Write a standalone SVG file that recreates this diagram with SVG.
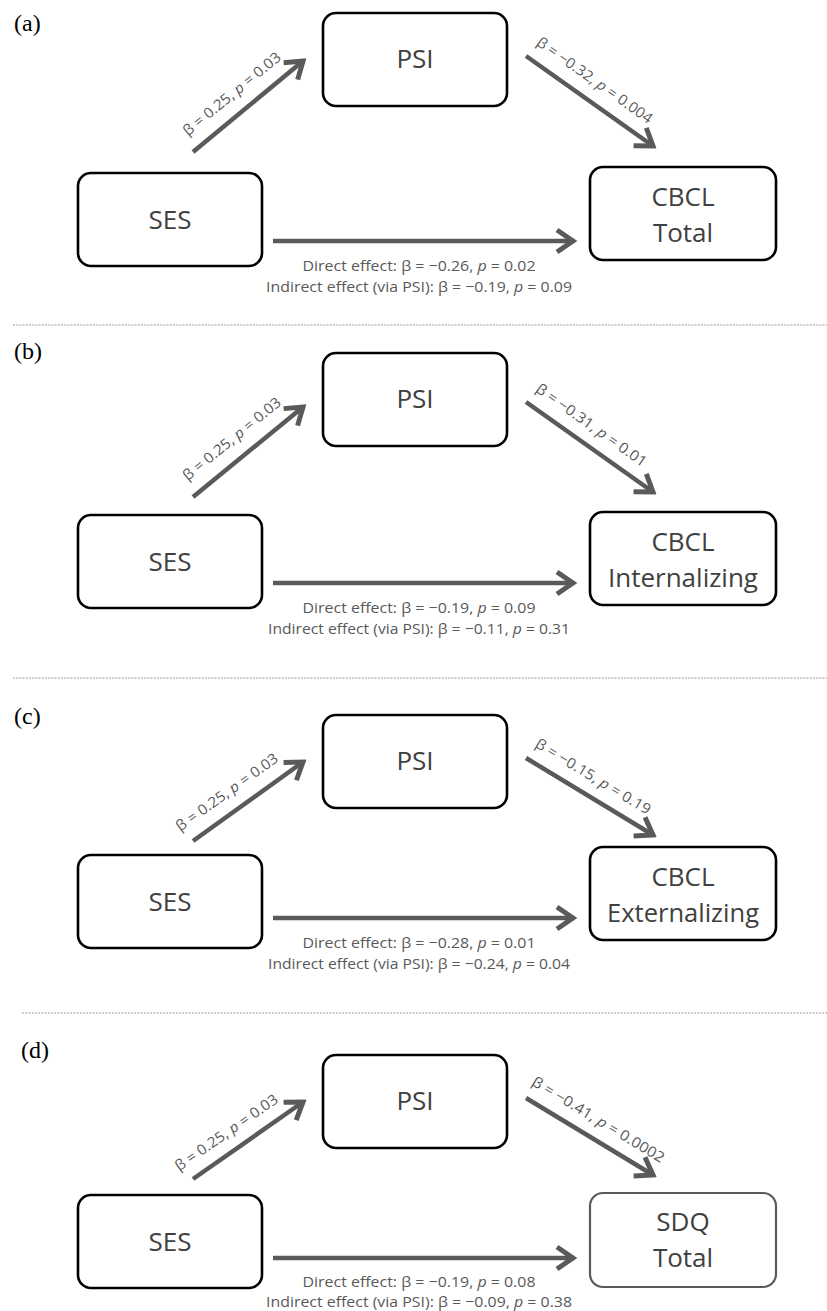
<svg xmlns="http://www.w3.org/2000/svg" width="827" height="1311" viewBox="0 0 827 1311">
<defs>
<style>
.box{fill:#fff;stroke:#000;stroke-width:2.6}
.box2{fill:#fff;stroke:#5a5a5a;stroke-width:2.2}
.lbl{font-family:"Open Sans","Noto Sans",sans-serif;font-size:26px;fill:#404040;text-anchor:middle}
.pl{font-family:"Liberation Serif","Times New Roman",serif;font-size:24px;fill:#000}
.sm{font-family:"Open Sans","Noto Sans",sans-serif;font-size:15px;fill:#595959;text-anchor:middle}
.dg{font-family:"Open Sans","Noto Sans",sans-serif;font-size:14.5px;fill:#595959;text-anchor:middle}
.arr{stroke:#5a5a5a;stroke-width:4.5;fill:none;marker-end:url(#chev)}
.sep{stroke:#9a9a9a;stroke-width:1;stroke-dasharray:2 1.2}
</style>
<marker id="chev" markerUnits="userSpaceOnUse" viewBox="-22 -15 26 30" markerWidth="26" markerHeight="30" refX="0" refY="0" orient="auto">
<path d="M-16,-11 L0,0 L-16,11" fill="none" stroke="#5a5a5a" stroke-width="5"/>
</marker>
</defs>

<g id="separators">
<line class="sep" x1="13" y1="325" x2="827" y2="325"/>
<line class="sep" x1="13" y1="678" x2="827" y2="678"/>
<line class="sep" x1="22" y1="1013" x2="827" y2="1013"/>
</g>

<g id="panel-labels">
<text class="pl" x="14" y="31">(a)</text>
<text class="pl" x="14" y="359">(b)</text>
<text class="pl" x="14" y="724">(c)</text>
<text class="pl" x="21" y="1058">(d)</text>
</g>

<!-- Panel (a) -->
<g id="a-psi"><rect class="box" x="323" y="13" width="184" height="93" rx="13"/><text class="lbl" x="415" y="68">PSI</text></g>
<g id="a-ses"><rect class="box" x="78" y="173" width="184" height="93" rx="13"/><text class="lbl" x="170" y="229">SES</text></g>
<g id="a-cbcl"><rect class="box" x="590" y="167" width="186" height="93" rx="13"/><text class="lbl" x="683" y="206">CBCL</text><text class="lbl" x="683" y="242">Total</text></g>

<!-- Panel (b) -->
<g id="b-psi"><rect class="box" x="323" y="353" width="184" height="93" rx="13"/><text class="lbl" x="415" y="408">PSI</text></g>
<g id="b-ses"><rect class="box" x="78" y="515" width="184" height="93" rx="13"/><text class="lbl" x="170" y="571">SES</text></g>
<g id="b-cbcl"><rect class="box" x="590" y="512" width="186" height="93" rx="13"/><text class="lbl" x="683" y="551">CBCL</text><text class="lbl" x="683" y="587" textLength="150" lengthAdjust="spacingAndGlyphs">Internalizing</text></g>

<!-- Panel (c) -->
<g id="c-psi"><rect class="box" x="323" y="715" width="184" height="93" rx="13"/><text class="lbl" x="415" y="770">PSI</text></g>
<g id="c-ses"><rect class="box" x="78" y="855" width="184" height="93" rx="13"/><text class="lbl" x="170" y="911">SES</text></g>
<g id="c-cbcl"><rect class="box" x="590" y="847" width="186" height="93" rx="13"/><text class="lbl" x="683" y="886">CBCL</text><text class="lbl" x="683" y="922" textLength="152" lengthAdjust="spacingAndGlyphs">Externalizing</text></g>

<!-- Panel (d) -->
<g id="d-psi"><rect class="box" x="323" y="1055" width="184" height="93" rx="13"/><text class="lbl" x="415" y="1110">PSI</text></g>
<g id="d-ses"><rect class="box" x="78" y="1195" width="184" height="93" rx="13"/><text class="lbl" x="170" y="1251">SES</text></g>
<g id="d-sdq"><rect class="box2" x="590" y="1193" width="186" height="94" rx="13"/><text class="lbl" x="683" y="1231">SDQ</text><text class="lbl" x="683" y="1267">Total</text></g>

<g id="connectors">
<line class="arr" x1="193" y1="152" x2="303" y2="61"/>
<line class="arr" x1="526" y1="56" x2="653" y2="146"/>
<line class="arr" x1="273" y1="241" x2="573" y2="241"/>

<line class="arr" x1="193" y1="497" x2="303" y2="407"/>
<line class="arr" x1="526" y1="402" x2="653" y2="492"/>
<line class="arr" x1="273" y1="583" x2="573" y2="583"/>

<line class="arr" x1="193" y1="841" x2="303" y2="762"/>
<line class="arr" x1="526" y1="758" x2="653" y2="835"/>
<line class="arr" x1="273" y1="918" x2="573" y2="918"/>

<line class="arr" x1="193" y1="1179" x2="303" y2="1102"/>
<line class="arr" x1="526" y1="1098" x2="653" y2="1175"/>
<line class="arr" x1="273" y1="1258" x2="573" y2="1258"/>
</g>

<g id="edge-labels">
<text class="dg" transform="translate(235,97.7) rotate(-39.6)" textLength="122" lengthAdjust="spacingAndGlyphs">β = 0.25, <tspan font-style="italic">p</tspan> = 0.03</text>
<text class="dg" transform="translate(591.8,84.3) rotate(35.3)" textLength="138" lengthAdjust="spacingAndGlyphs">β = −0.32, <tspan font-style="italic">p</tspan> = 0.004</text>
<text class="sm" x="419" y="271" textLength="233" lengthAdjust="spacingAndGlyphs">Direct effect: β = −0.26, <tspan font-style="italic">p</tspan> = 0.02</text>
<text class="sm" x="419" y="292" textLength="306" lengthAdjust="spacingAndGlyphs">Indirect effect (via PSI): β = −0.19,  <tspan font-style="italic">p</tspan> = 0.09</text>

<text class="dg" transform="translate(235,442.7) rotate(-39.3)" textLength="122" lengthAdjust="spacingAndGlyphs">β = 0.25, <tspan font-style="italic">p</tspan> = 0.03</text>
<text class="dg" transform="translate(588.5,429.2) rotate(35.3)" textLength="132" lengthAdjust="spacingAndGlyphs">β = −0.31, <tspan font-style="italic">p</tspan> = 0.01</text>
<text class="sm" x="419" y="613" textLength="233" lengthAdjust="spacingAndGlyphs">Direct effect: β = −0.19, <tspan font-style="italic">p</tspan> = 0.09</text>
<text class="sm" x="419" y="634" textLength="302" lengthAdjust="spacingAndGlyphs">Indirect effect (via PSI): β = −0.11, <tspan font-style="italic">p</tspan> = 0.31</text>

<text class="dg" transform="translate(229.8,796.2) rotate(-35.7)" textLength="122" lengthAdjust="spacingAndGlyphs">β = 0.25, <tspan font-style="italic">p</tspan> = 0.03</text>
<text class="dg" transform="translate(590.6,780.8) rotate(31.2)" textLength="132" lengthAdjust="spacingAndGlyphs">β = −0.15, <tspan font-style="italic">p</tspan> = 0.19</text>
<text class="sm" x="419" y="948" textLength="233" lengthAdjust="spacingAndGlyphs">Direct effect: β = −0.28, <tspan font-style="italic">p</tspan> = 0.01</text>
<text class="sm" x="419" y="969" textLength="302" lengthAdjust="spacingAndGlyphs">Indirect effect (via PSI): β = −0.24, <tspan font-style="italic">p</tspan> = 0.04</text>

<text class="dg" transform="translate(229.2,1136.6) rotate(-35)" textLength="122" lengthAdjust="spacingAndGlyphs">β = 0.25, <tspan font-style="italic">p</tspan> = 0.03</text>
<text class="dg" transform="translate(595.7,1123.9) rotate(31.2)" textLength="152" lengthAdjust="spacingAndGlyphs">β = −0.41, <tspan font-style="italic">p</tspan> = 0.0002</text>
<text class="sm" x="419" y="1287" textLength="233" lengthAdjust="spacingAndGlyphs">Direct effect: β = −0.19, <tspan font-style="italic">p</tspan> = 0.08</text>
<text class="sm" x="419" y="1307" textLength="306" lengthAdjust="spacingAndGlyphs">Indirect effect (via PSI): β = −0.09,  <tspan font-style="italic">p</tspan> = 0.38</text>
</g>
</svg>
